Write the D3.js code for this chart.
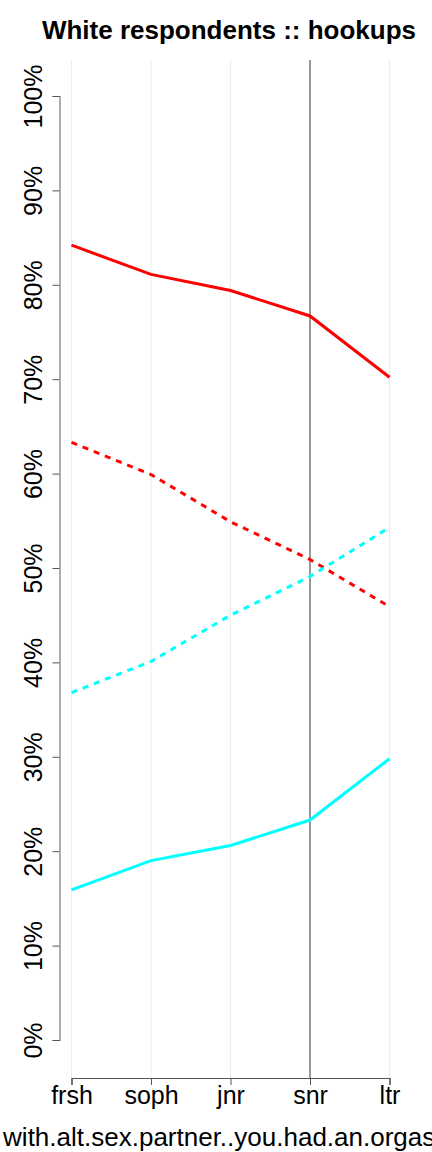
<!doctype html>
<html>
<head>
<script src="https://d3js.org/d3.v7.min.js"></script>
<style>
  body { margin: 0; background: #fff; }
  text { font-family: "Liberation Sans", Arial, sans-serif; }
</style>
</head>
<body>
<svg width="432" height="1152" id="chart"></svg>
<script>
// data
var years = ["frsh", "soph", "jnr", "snr", "ltr"];
var redSolid   = [84.2, 81.1, 79.4, 76.7, 70.2];
var redDashed  = [63.3, 59.9, 54.9, 50.9, 45.9];
var cyanDashed = [36.8, 40.1, 45.0, 49.1, 54.3];
var cyanSolid  = [15.9, 19.0, 20.6, 23.3, 29.8];
var yTicks = [0, 10, 20, 30, 40, 50, 60, 70, 80, 90, 100];

var svg = d3.select("#chart");

var x = d3.scalePoint().domain(years).range([71.5, 389.5]);
var y = d3.scaleLinear().domain([0, 100]).range([1040, 96]);

// title
svg.append("text")
   .attr("x", 229).attr("y", 39)
   .attr("text-anchor", "middle")
   .attr("font-size", "26px").attr("font-weight", "bold")
   .text("White respondents :: hookups");

// vertical grid
svg.append("g").selectAll("line")
   .data(years).enter().append("line")
   .attr("x1", function(d) { return x(d); })
   .attr("x2", function(d) { return x(d); })
   .attr("y1", 60).attr("y2", 1078)
   .attr("stroke", function(d) { return d == "snr" ? "#555" : "#efede2"; })
   .attr("stroke-width", function(d) { return d == "snr" ? 1.2 : 1; });

// y axis
var ya = svg.append("g")
   .attr("transform", "translate(59.5,0)")
   .call(d3.axisLeft(y).tickValues(yTicks).tickSize(7)
        .tickFormat(function(d) { return d + "%"; }));
ya.select(".domain").attr("stroke", "#777").attr("stroke-width", 1.2);
ya.selectAll(".tick line").attr("stroke", "#555");
ya.selectAll(".tick text")
  .attr("font-size", "25px").attr("fill", "#000")
  .attr("font-family", "Liberation Sans, Arial, sans-serif")
  .attr("text-anchor", "middle")
  .attr("x", 0).attr("y", 0).attr("dy", 0)
  .attr("transform", "translate(-17.5,0) rotate(-90)");

// x axis
var xa = svg.append("g")
   .attr("transform", "translate(0,1078)")
   .call(d3.axisBottom(x).tickSize(7));
xa.select(".domain").attr("stroke", "#555").attr("stroke-width", 1.2);
xa.selectAll(".tick line").attr("stroke", "#555");
xa.selectAll(".tick text").attr("font-size", "25px").attr("fill", "#000")
  .attr("font-family", "Liberation Sans, Arial, sans-serif")
  .attr("y", 26).attr("dy", 0);

svg.append("text")
   .attr("x", 230).attr("y", 1146)
   .attr("text-anchor", "middle")
   .attr("font-size", "26px")
   .text("with.alt.sex.partner..you.had.an.orgasm");

// lines
var line = d3.line()
   .x(function(d, i) { return x(years[i]); })
   .y(function(d) { return y(d); });

var series = [
  { v: redSolid, c: "#ff0000", dash: null },
  { v: redDashed, c: "#ff0000", dash: "6,6" },
  { v: cyanDashed, c: "#00ffff", dash: "6,6" },
  { v: cyanSolid, c: "#00ffff", dash: null }
];
series.forEach(function(s) {
  svg.append("path")
     .datum(s.v)
     .attr("d", line)
     .attr("fill", "none")
     .attr("stroke", s.c)
     .attr("stroke-width", 3)
     .attr("stroke-dasharray", s.dash);
});
</script>
</body>
</html>
